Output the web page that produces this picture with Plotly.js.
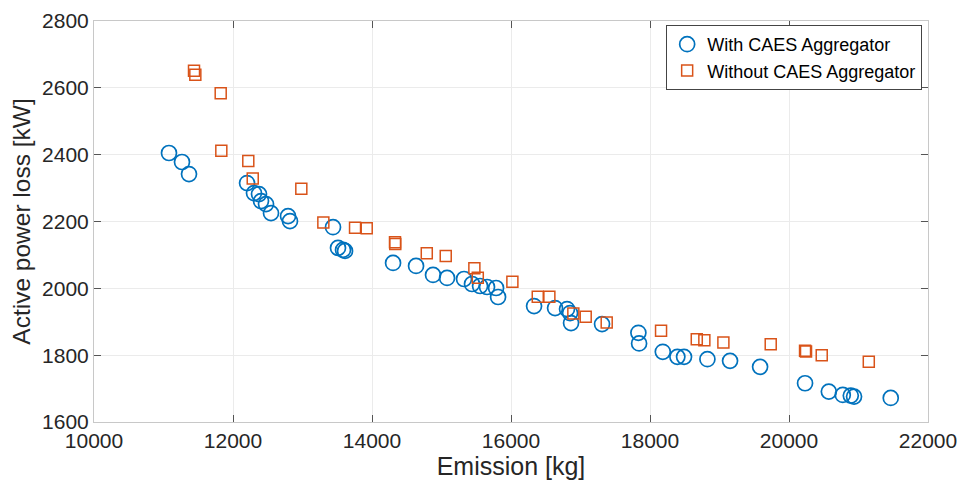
<!DOCTYPE html>
<html>
<head>
<meta charset="utf-8">
<script src="https://cdn.plot.ly/plotly-3.0.1.min.js"></script>
<style>html,body{margin:0;padding:0;background:#fff;}#chart{width:962px;height:483px;}</style>
</head>
<body>
<div id="chart"></div>
<script>
const withName = "With CAES Aggregator";
const withoutName = "Without CAES Aggregator";
const withX = [11079,11266,11367,12202,12302,12374,12403,12475,12547,12792,12820,13439,13511,13583,13612,14303,14634,14878,15080,15324,15439,15555,15655,15785,15814,16332,16634,16806,16850,16864,17310,17833,17843,18184,18394,18490,18826,19152,19584,20231,20573,20774,20889,20936,21464];
const withY = [2405,2378,2342,2315,2285,2282,2261,2252,2225,2216,2201,2183,2121,2115,2112,2076,2067,2040,2031,2028,2013,2007,2004,2001,1974,1947,1941,1938,1926,1896,1893,1867,1835,1810,1795,1795,1788,1783,1765,1716,1691,1681,1679,1676,1672];
const withoutX = [11439,11458,11823,11832,12220,12284,12983,13300,13756,13924,14331,14335,14788,15061,15473,15522,16020,16385,16552,16897,17075,17377,18159,18673,18782,19056,19737,20231,20245,20471,21148];
const withoutY = [2651,2639,2584,2412,2381,2329,2298,2197,2181,2180,2138,2133,2105,2097,2060,2032,2020,1975,1975,1925,1915,1898,1873,1848,1845,1838,1833,1813,1811,1800,1780];
const xTicks = [10000,12000,14000,16000,18000,20000,22000];
const yTicks = [1600,1800,2000,2200,2400,2600,2800];

const font = "Arial, 'Liberation Sans', Helvetica, sans-serif";
const traces = [
  {x: withX, y: withY, name: withName, type: 'scatter', mode: 'markers',
   marker: {symbol: 'circle-open', size: 15, color: '#0072BD', line: {width: 1.7, color: '#0072BD'}}},
  {x: withoutX, y: withoutY, name: withoutName, type: 'scatter', mode: 'markers',
   marker: {symbol: 'square-open', size: 11, color: '#D95319', line: {width: 1.5, color: '#D95319'}}}
];
const axisCommon = {
  showline: true, linecolor: '#c8c8c8', linewidth: 1, mirror: 'all',
  ticks: 'inside', ticklen: 7, tickwidth: 1, tickcolor: '#555',
  showgrid: true, gridcolor: '#ebebeb', gridwidth: 1, zeroline: false,
  tickfont: {family: font, size: 21, color: '#262626'}
};
const layout = {
  width: 962, height: 483,
  margin: {l: 94, r: 34, t: 21, b: 61},
  paper_bgcolor: '#fff', plot_bgcolor: '#fff',
  font: {family: font, color: '#262626'},
  showlegend: true,
  xaxis: Object.assign({}, axisCommon, {
    range: [10000, 22000], tickvals: xTicks, ticktext: xTicks.map(String),
    title: {text: 'Emission [kg]', font: {family: font, size: 25, color: '#262626'}, standoff: 2}
  }),
  yaxis: Object.assign({}, axisCommon, {
    range: [1600, 2800], tickvals: yTicks, ticktext: yTicks.map(String),
    title: {text: 'Active power loss [kW]', font: {family: font, size: 24.5, color: '#262626'}, standoff: 4}
  }),
  legend: {
    x: 0.993, y: 0.99, xanchor: 'right', yanchor: 'top',
    bgcolor: '#fff', bordercolor: '#444', borderwidth: 1,
    font: {family: font, size: 18, color: '#000'},
    tracegroupgap: 0, itemwidth: 30
  }
};
Plotly.newPlot('chart', traces, layout, {staticPlot: true, displayModeBar: false});
</script>
</body>
</html>
